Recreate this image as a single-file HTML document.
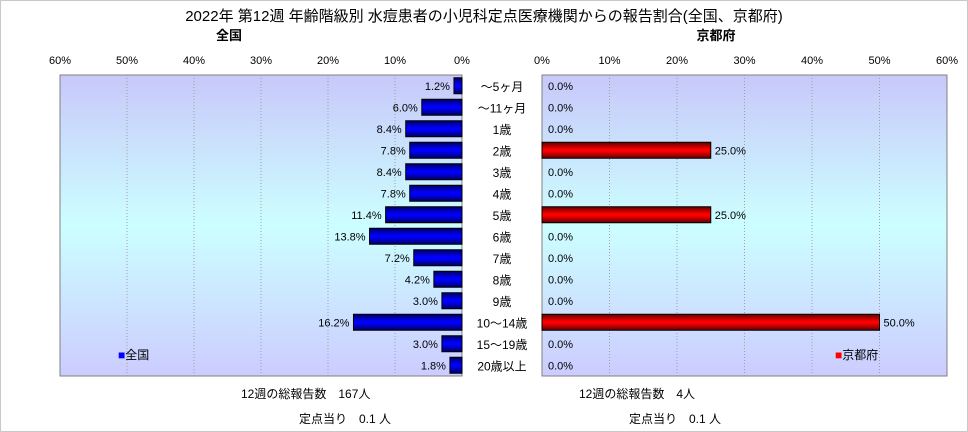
<!DOCTYPE html>
<html><head><meta charset="utf-8">
<style>
body{margin:0;background:#fff;font-family:"Liberation Sans","Noto Sans CJK JP",sans-serif;}
#wrap{position:relative;width:966px;height:430px;border:1px solid #c8c8c8;overflow:hidden;}
svg text{font-family:"Liberation Sans","Noto Sans CJK JP",sans-serif;}
</style></head>
<body>
<div id="wrap">
<svg id="chart" width="966" height="430" xmlns="http://www.w3.org/2000/svg">
<defs>
<linearGradient id="bg" x1="0" y1="0" x2="0" y2="1">
<stop offset="0" stop-color="#c8c8fa"/><stop offset="0.5" stop-color="#ccffff"/><stop offset="1" stop-color="#ccccff"/>
</linearGradient>
<linearGradient id="gb" x1="0" y1="0" x2="0" y2="1">
<stop offset="0" stop-color="#000060"/><stop offset="0.45" stop-color="#0000ff"/><stop offset="0.55" stop-color="#0000ff"/><stop offset="1" stop-color="#000060"/>
</linearGradient>
<linearGradient id="gr" x1="0" y1="0" x2="0" y2="1">
<stop offset="0" stop-color="#600000"/><stop offset="0.45" stop-color="#ff0000"/><stop offset="0.55" stop-color="#ff0000"/><stop offset="1" stop-color="#600000"/>
</linearGradient>
</defs>
<text x="483" y="20" text-anchor="middle" font-size="15">2022年 第12週 年齢階級別 水痘患者の小児科定点医療機関からの報告割合(全国、京都府)</text>
<text x="228" y="39" text-anchor="middle" font-size="13" font-weight="bold">全国</text>
<text x="715" y="39" text-anchor="middle" font-size="13" font-weight="bold">京都府</text>
<rect x="59" y="74" width="402" height="301" fill="url(#bg)" stroke="#808080"/>
<rect x="541" y="74" width="405" height="301" fill="url(#bg)" stroke="#808080"/>
<g id="g"></g>
<text x="117" y="358" font-size="12"><tspan fill="#0000ff">■</tspan>全国</text>
<text x="834" y="358" font-size="12"><tspan fill="#ff0000">■</tspan>京都府</text>
<text x="240" y="397" font-size="12">12週の総報告数　167人</text>
<text x="298" y="422" font-size="12">定点当り　0.1 人</text>
<text x="578" y="397" font-size="12">12週の総報告数　4人</text>
<text x="628" y="422" font-size="12">定点当り　0.1 人</text>
</svg>
</div>
<script>
const categories=["～5ヶ月","～11ヶ月","1歳","2歳","3歳","4歳","5歳","6歳","7歳","8歳","9歳","10～14歳","15～19歳","20歳以上"];
const nationalValues=[1.2,6.0,8.4,7.8,8.4,7.8,11.4,13.8,7.2,4.2,3.0,16.2,3.0,1.8];
const kyotoValues=[0,0,0,25.0,0,0,25.0,0,0,0,0,50.0,0,0];
const tickLabels=[0,10,20,30,40,50,60];
const NS="http://www.w3.org/2000/svg";
const g=document.getElementById('g');
const top0=74,plotH=301,rowH=plotH/categories.length;
const xl=v=>461-v*(402/60);
const xr=v=>541+v*(405/60);
const yc=i=>top0+rowH*(i+0.5);
function mk(t,a){const e=document.createElementNS(NS,t);for(const k in a)e.setAttribute(k,a[k]);g.appendChild(e);return e;}
tickLabels.forEach(t=>{
  if(t>0&&t<60){
    const l1=mk('line',{x1:xl(t),x2:xl(t),y1:74,y2:375,stroke:'#a0a0a0','stroke-dasharray':'1,2'});
    
    
    const l2=mk('line',{x1:xr(t),x2:xr(t),y1:74,y2:375,stroke:'#a0a0a0','stroke-dasharray':'1,2'});
    
    
  }
  const a=mk('text',{x:xl(t),y:63,'text-anchor':'middle','font-size':11});a.textContent=t+'%';
  
  
  const b=mk('text',{x:xr(t),y:63,'text-anchor':'middle','font-size':11});b.textContent=t+'%';
  
  
});
categories.forEach((c,i)=>{
  const y=yc(i);
  const cl=mk('text',{x:501,y:y+5,'text-anchor':'middle','font-size':12});cl.textContent=c;
  
  
  const v=nationalValues[i];
  const r=mk('rect',{x:xl(v),y:y-8,width:461-xl(v),height:16,fill:'url(#gb)',stroke:'#000'});
  
  
  const t=mk('text',{x:xl(v)-4,y:y+4,'text-anchor':'end','font-size':11});t.textContent=v.toFixed(1)+'%';
  
  
  const k=kyotoValues[i];
  if(k>0){
    const rr=mk('rect',{x:541,y:y-8,width:xr(k)-541,height:16,fill:'url(#gr)',stroke:'#000'});
    
    
  }
  const kt=mk('text',{x:xr(k)+(k>0?4:6),y:y+4,'font-size':11});kt.textContent=k.toFixed(1)+'%';
  
  
});
</script>
</body></html>
